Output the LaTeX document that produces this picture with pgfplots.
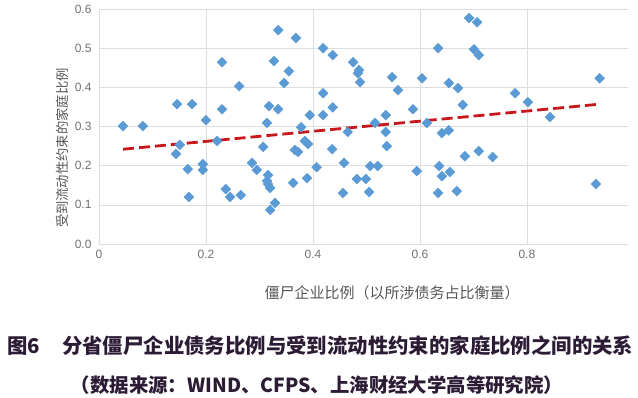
\documentclass[border=0pt]{standalone}
\usepackage{fontspec}
\setmainfont{Liberation Sans}
\newfontfamily\cjk{Noto Sans CJK SC}
\usepackage{pgfplots}
\pgfplotsset{compat=1.18}
\definecolor{ptblue}{HTML}{5B9BD5}
\definecolor{trendred}{HTML}{C8161D}
\definecolor{gridgray}{HTML}{DDDDDD}
\definecolor{ticklab}{HTML}{707070}
\definecolor{labgray}{HTML}{555555}
\definecolor{capcol}{HTML}{2B1B35}
\pgfplotstableread{
x y
0.045 0.301
0.082 0.301
0.144 0.230
0.146 0.357
0.151 0.253
0.166 0.191
0.168 0.120
0.174 0.357
0.194 0.204
0.194 0.189
0.200 0.316
0.221 0.263
0.230 0.464
0.230 0.344
0.237 0.140
0.245 0.120
0.262 0.403
0.265 0.125
0.286 0.207
0.295 0.189
0.307 0.248
0.314 0.309
0.314 0.161
0.316 0.176
0.316 0.153
0.318 0.352
0.320 0.143
0.320 0.087
0.327 0.467
0.329 0.105
0.335 0.546
0.335 0.344
0.346 0.411
0.355 0.441
0.363 0.156
0.366 0.240
0.372 0.235
0.368 0.526
0.378 0.298
0.385 0.263
0.391 0.255
0.389 0.168
0.394 0.329
0.407 0.196
0.419 0.500
0.419 0.385
0.419 0.329
0.436 0.242
0.437 0.482
0.437 0.349
0.456 0.130
0.458 0.207
0.465 0.286
0.475 0.464
0.484 0.436
0.486 0.444
0.488 0.413
0.482 0.166
0.499 0.166
0.505 0.133
0.507 0.199
0.516 0.309
0.521 0.199
0.536 0.329
0.536 0.286
0.538 0.250
0.548 0.426
0.559 0.393
0.587 0.344
0.594 0.186
0.604 0.423
0.613 0.309
0.634 0.500
0.634 0.130
0.636 0.199
0.641 0.283
0.641 0.173
0.654 0.411
0.654 0.290
0.656 0.184
0.669 0.135
0.671 0.398
0.680 0.355
0.684 0.224
0.692 0.577
0.701 0.497
0.707 0.566
0.710 0.482
0.710 0.237
0.736 0.222
0.778 0.385
0.802 0.362
0.843 0.324
0.929 0.153
0.936 0.423
}\pointdata
\begin{document}
\begin{tikzpicture}[x=1pt,y=1pt]
\useasboundingbox (0,0) rectangle (638,398);
\begin{axis}[
  at={(99pt,154pt)}, anchor=south west,
  scale only axis, width=529pt, height=235pt,
  xmin=0, xmax=0.989, ymin=0, ymax=0.6,
  axis x line=bottom, axis y line=left,
  axis line style={gridgray, line width=0.8pt, -},
  grid=major, major grid style={gridgray, line width=0.6pt},
  major tick length=0pt,
  xtick={0,0.2,0.4,0.6,0.8},
  xticklabels={0,0.2,0.4,0.6,0.8},
  ytick={0,0.1,0.2,0.3,0.4,0.5,0.6},
  yticklabels={0.0,0.1,0.2,0.3,0.4,0.5,0.6},
  /pgf/number format/assume math mode=true,
  tick label style={font=\fontsize{12}{14}\selectfont, text=ticklab},
  xticklabel style={yshift=-3pt},
  yticklabel style={xshift=-4pt},
  xlabel={\cjk 僵尸企业比例（以所涉债务占比衡量）},
  ylabel={\cjk 受到流动性约束的家庭比例},
  xlabel style={at={(axis description cs:0.554,-0.209)}, anchor=center, font=\fontsize{15}{17}\selectfont, text=labgray},
  ylabel style={at={(axis description cs:-0.070,0.408)}, anchor=center, rotate=0, font=\fontsize{13.3}{15}\selectfont, text=labgray},
  clip=false,
]
\addplot[only marks, mark=square*, mark size=3.5pt, mark options={rotate=45, fill=ptblue, draw=ptblue}] table[x=x,y=y] {\pointdata};
\addplot[trendred, line width=2.8pt, dash pattern=on 11pt off 5pt] coordinates {(0.045,0.242) (0.936,0.357)};
\end{axis}
\node[anchor=west, text=capcol, font=\cjk\bfseries\fontsize{20.4}{23}\selectfont] at (4,52) {图6};
\node[anchor=west, text=capcol, font=\cjk\bfseries\fontsize{20.4}{23}\selectfont, inner sep=0pt] at (62,52) {分省僵尸企业债务比例与受到流动性约束的家庭比例之间的关系};
\node[anchor=center, text=capcol, font=\cjk\bfseries\fontsize{19.4}{22}\selectfont] at (317,13) {（数据来源：WIND、CFPS、上海财经大学高等研究院）};
\end{tikzpicture}
\end{document}
